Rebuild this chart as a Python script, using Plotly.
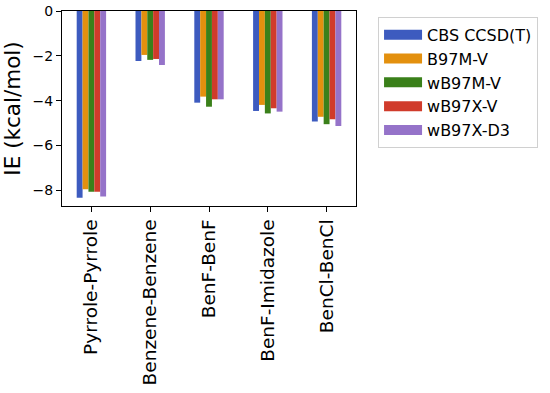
import plotly.graph_objects as go

categories = ["Pyrrole-Pyrrole", "Benzene-Benzene", "BenF-BenF", "BenF-Imidazole", "BenCl-BenCl"]
series_names = ["CBS CCSD(T)", "B97M-V", "wB97M-V", "wB97X-V", "wB97X-D3"]
cbs = [-8.33, -2.23, -4.09, -4.46, -4.93]
b97mv = [-7.95, -1.96, -3.82, -4.19, -4.72]
wb97mv = [-8.06, -2.18, -4.27, -4.57, -5.05]
wb97xv = [-8.06, -2.14, -3.94, -4.34, -4.83]
wb97xd3 = [-8.28, -2.41, -3.94, -4.49, -5.13]
y_ticks = [0, -2, -4, -6, -8]
colors = ["#3d5bbf", "#e3900e", "#3a801a", "#d03b2b", "#9573c9"]

values = [cbs, b97mv, wb97mv, wb97xv, wb97xd3]

fig = go.Figure()
for name, vals, col in zip(series_names, values, colors):
    fig.add_trace(go.Bar(x=categories, y=vals, name=name, marker_color=col,
                         marker_line_width=0, showlegend=False))
# legend swatches (wide rectangles like the reference)
for name, col in zip(series_names, colors):
    fig.add_trace(go.Scatter(x=[None], y=[None], mode="lines", name=name,
                             line=dict(color=col, width=11)))

font = "DejaVu Sans"
fig.update_layout(
    width=550, height=393,
    barmode="group", bargap=0.5, bargroupgap=0,
    plot_bgcolor="white", paper_bgcolor="white",
    margin=dict(l=62, r=194, t=11, b=187, autoexpand=False),
    font=dict(family=font, size=14, color="black"),
    showlegend=True,
    legend=dict(x=1.075, y=0.97, xanchor="left", yanchor="top",
                bgcolor="white", bordercolor="#d0d0d0", borderwidth=1,
                font=dict(size=16, family=font), itemwidth=38),
    xaxis=dict(range=[-0.5, 4.5], showline=True, linecolor="black", linewidth=1,
               mirror=True, ticks="outside", ticklen=5, tickcolor="black",
               tickangle=-90, tickfont=dict(size=18.5), showgrid=False,
               automargin=False),
    yaxis=dict(range=[-8.70, 0], showline=True, linecolor="black", linewidth=1,
               mirror=True, ticks="outside", ticklen=5, tickcolor="black",
               tickvals=y_ticks, tickfont=dict(size=14),
               showgrid=False, zeroline=False, automargin=False,
               title=dict(text="IE (kcal/mol)", font=dict(size=21.5), standoff=6)),
)

fig.write_html("out.html", config={"displayModeBar": False},
               post_script="document.body.style.margin='0';document.body.style.padding='0';")
